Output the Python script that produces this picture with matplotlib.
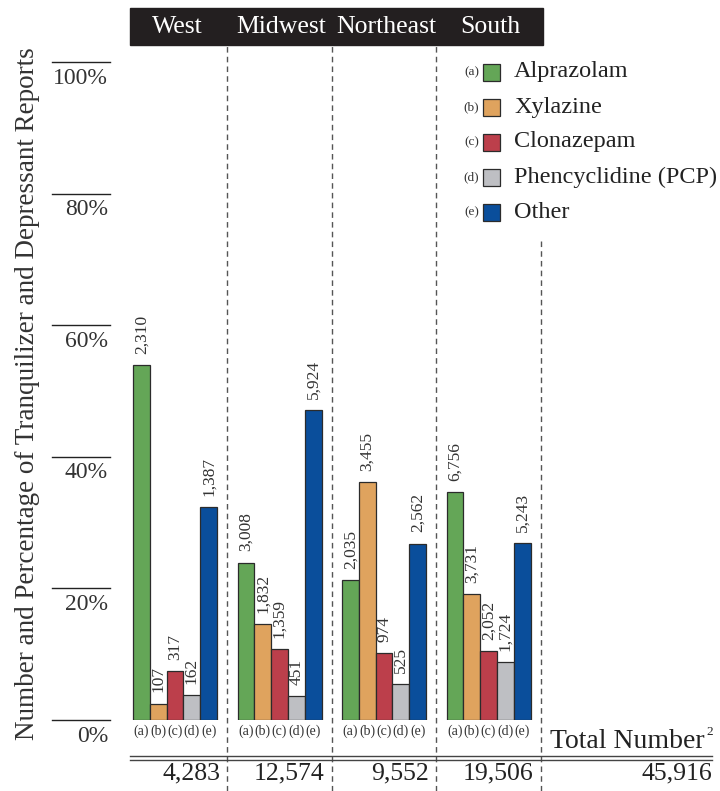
import matplotlib
matplotlib.use('Agg')
import matplotlib.pyplot as plt
from matplotlib.patches import Rectangle
from matplotlib.transforms import blended_transform_factory
import numpy as np

plt.rcParams['font.family'] = ['Liberation Serif', 'DejaVu Serif']

regions = ['West', 'Midwest', 'Northeast', 'South']
drugs = ['Alprazolam', 'Xylazine', 'Clonazepam', 'Phencyclidine (PCP)', 'Other']
letters = ['(a)', '(b)', '(c)', '(d)', '(e)']
colors = ['#64a657', '#dfa35e', '#bc3f4b', '#bebfc3', '#0a4e9b']

# report counts per region, in the order of drugs above
west = [2310, 107, 317, 162, 1387]
midwest = [3008, 1832, 1359, 451, 5924]
northeast = [2035, 3455, 974, 525, 2562]
south = [6756, 3731, 2052, 1724, 5243]
counts = np.array([west, midwest, northeast, south])
# published totals (all tranquilizer/depressant reports per region)
totals = np.array([4283, 12574, 9552, 19506])
grand_total = 45916
pct = counts / totals[:, None] * 100

yticks = [0, 20, 40, 60, 80, 100]

W, H = 720, 791
fig = plt.figure(figsize=(W / 100, H / 100), dpi=100)

def fx(x):
    return x / W

def fy(y):
    return 1 - y / H

# axes spans 0%..100% vertically, x units are bar widths
ax_left, ax_right, ax_top, ax_bot = 130, 712, 62, 720
ax = fig.add_axes([fx(ax_left), fy(ax_bot), fx(ax_right - ax_left), (ax_bot - ax_top) / H])
bar_px = 16.8
ax.set_xlim(0, (ax_right - ax_left) / bar_px)
ax.set_ylim(0, 100)
ax.axis('off')

group_step = 6.22
first_center = 2.68
centers = first_center + group_step * np.arange(len(regions))
offsets = np.arange(len(drugs)) - 2

for g in range(len(regions)):
    for d in range(len(drugs)):
        x = centers[g] + offsets[d]
        ax.bar(x, pct[g, d], width=1, color=colors[d], edgecolor='#2b2b2b',
               linewidth=0.9, zorder=3)
        ax.annotate(f'{counts[g, d]:,}', (x, pct[g, d]), xytext=(0, 8),
                    textcoords='offset points', rotation=90, ha='center',
                    va='bottom', fontsize=12.5, color='#333333')
        ax.annotate(letters[d], (x, 0), xytext=(0, -3), textcoords='offset points',
                    ha='center', va='top', fontsize=10, color='#333333',
                    annotation_clip=False)

# dashed separators between regions
dividers = centers + group_step / 2
top_frac = (ax_bot - 45) / (ax_bot - ax_top)
bot_frac = (ax_bot - H) / (ax_bot - ax_top)
for i, xd in enumerate(dividers):
    ymax = top_frac if i < len(dividers) - 1 else (ax_bot - 240) / (ax_bot - ax_top)
    ax.axvline(xd, ymin=bot_frac, ymax=ymax, color='#555555', linewidth=1,
               linestyle=(0, (4, 3)), clip_on=False, zorder=1)

# header band with region names
fig.patches.append(Rectangle((fx(130), fy(45)), fx(543 - 130), (45 - 8) / H,
                             transform=fig.transFigure, color='#231f20', zorder=0))
for g, name in enumerate(regions):
    xc = ax.transData.transform((centers[g], 0))[0]
    fig.text(xc / W + fx(2), fy(27), name, ha='center', va='center', fontsize=18.5,
             color='white')

# y scale: short rules with labels underneath
tr = blended_transform_factory(fig.transFigure, ax.transData)
for t in yticks:
    ax.plot([fx(52), fx(110)], [t, t], transform=tr, color='#222222',
            linewidth=1, clip_on=False)
    ax.annotate(f'{t}%', (fx(108), t), xycoords=tr, xytext=(0, -4),
                textcoords='offset points', ha='right', va='top', fontsize=17,
                color='#333333', annotation_clip=False)

fig.text(fx(28), fy(394), 'Number and Percentage of Tranquilizer and Depressant Reports',
         rotation=90, ha='center', va='center', fontsize=19.5, color='#333333')

# legend
for d in range(len(drugs)):
    yc = 72 + d * 35
    fig.text(fx(479), fy(yc), letters[d], ha='right', va='center', fontsize=9.5,
             color='#333333')
    fig.patches.append(Rectangle((fx(483), fy(yc + 8.5)), fx(17), 17 / H,
                                 transform=fig.transFigure, facecolor=colors[d],
                                 edgecolor='#2b2b2b', linewidth=0.9))
    fig.text(fx(514), fy(yc), drugs[d], ha='left', va='center', fontsize=17.5,
             color='#222222')

# totals row
fig.text(fx(705), fy(741), 'Total Number', ha='right', va='center',
         fontsize=20, color='#222222')
fig.text(fx(706), fy(732), '2', ha='left', va='center', fontsize=9.5,
         color='#222222')
for yl in (756, 759.5):
    fig.add_artist(plt.Line2D([fx(130), fx(712)], [fy(yl), fy(yl)],
                              transform=fig.transFigure, color='#444444', linewidth=1))
for g in range(len(regions)):
    xr = ax.transData.transform((dividers[g], 0))[0]
    fig.text((xr - 7) / W, fy(773), f'{totals[g]:,}', ha='right', va='center',
             fontsize=18.5, color='#222222')
fig.text(fx(712), fy(773), f'{grand_total:,}', ha='right', va='center',
         fontsize=18.5, color='#222222')

fig.savefig('out.png', dpi=100)
